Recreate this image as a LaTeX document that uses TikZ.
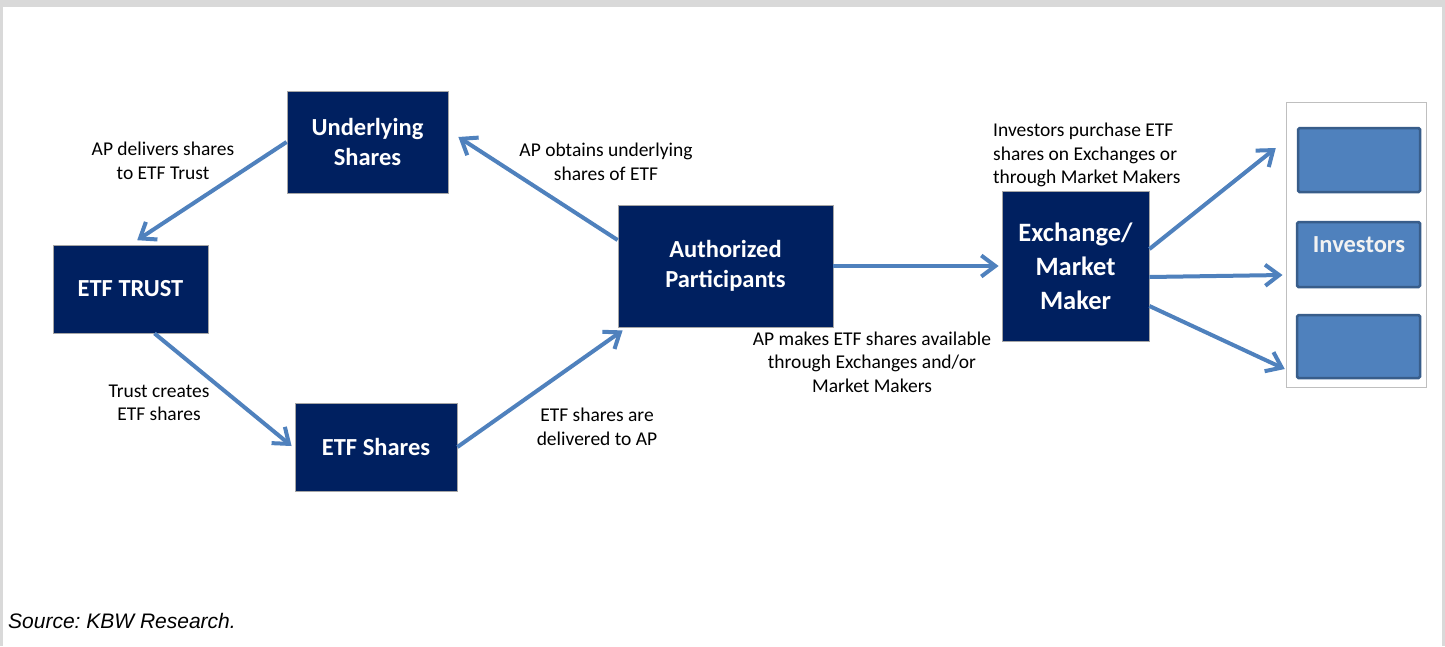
\documentclass[tikz,border=0pt]{standalone}
\usepackage{fontspec}
\setmainfont{Carlito}
\newfontfamily\arialfont{Liberation Sans}
\usetikzlibrary{arrows.meta}
\definecolor{navy}{HTML}{002060}
\definecolor{arrowblue}{HTML}{4F81BD}
\definecolor{invborder}{HTML}{385D8A}
\definecolor{framegray}{HTML}{D9D9D9}
\definecolor{boxline}{HTML}{A6A6A6}
\definecolor{outerline}{HTML}{BFBFBF}
\begin{document}
\frenchspacing
\begin{tikzpicture}[x=1pt,y=-1pt,
  navybox/.style={rectangle, fill=navy, draw=boxline, line width=0.8pt, text=white,
    font=\fontsize{24.5}{30}\selectfont\bfseries, align=center, inner sep=0pt},
  invsmall/.style={rectangle, rounded corners=1.5pt, fill=arrowblue, draw=invborder,
    line width=2.5pt, inner sep=0pt},
  lbl/.style={font=\fontsize{19.5}{23.5}\selectfont, align=center, text=black, inner sep=0pt},
  arr/.style={draw=arrowblue, line width=4pt, -{Straight Barb[length=14pt,width=21pt]}},
]
\useasboundingbox (0,0) rectangle (1445,646);
\fill[white] (0,0) rectangle (1445,646);
% frame
\fill[framegray] (0,0) rectangle (1445,7);
\fill[framegray] (0,0) rectangle (3,646);
\fill[framegray] (1442,0) rectangle (1445,646);

% main boxes
\node[navybox, minimum width=161pt, minimum height=102pt] (under) at (367.5,142) {Underlying\\Shares};
\node[navybox, minimum width=155pt, minimum height=88pt] (trust) at (130.5,289) {ETF TRUST};
\node[navybox, minimum width=162pt, minimum height=88pt] (eshares) at (376,447) {ETF Shares};
\node[navybox, minimum width=215pt, minimum height=122pt] (ap) at (725.5,266) {Authorized\\Participants};
\node[navybox, minimum width=147pt, minimum height=150pt, font=\fontsize{26.5}{34}\selectfont\bfseries] (exch) at (1075.5,266) {Exchange/\\Market\\Maker};

% investors group
\node[rectangle, draw=outerline, line width=1pt, fill=white, minimum width=140pt, minimum height=285pt, inner sep=0pt] (invbox) at (1356.5,245) {};
\node[invsmall, minimum width=122pt, minimum height=64pt] (inv1) at (1359,160) {};
\node[invsmall, minimum width=123pt, minimum height=65pt] (inv2) at (1358.5,254.5) {};
\node[invsmall, minimum width=123pt, minimum height=63pt] (inv3) at (1358.5,346.5) {};
\node[font=\fontsize{24.5}{28}\selectfont\bfseries, text=white!95!black, inner sep=0pt] (invlabel) at (1359,245) {Investors};

% connectors
\draw[arr, shorten >=8pt] (under.west) -- (trust.north);
\draw[arr] ([yshift=26pt]ap.west) -- ([xshift=10pt,yshift=5pt]under.east);
\draw[arr] ([xshift=24pt]trust.south) -- ([xshift=-3pt,yshift=1pt]eshares.west);
\draw[arr] (eshares.east) -- ([xshift=5pt,yshift=-3pt]ap.south west);
\draw[arr, shorten >=3pt] (ap.east) -- (exch.west);
\draw[arr] ([yshift=17pt]exch.east) -- ([xshift=-21pt,yshift=12pt]inv1.west);
\draw[arr] ([yshift=-11pt]exch.east) -- ([xshift=-3.5pt,yshift=-30pt]invbox.west);
\draw[arr] ([yshift=-40pt]exch.east) -- ([xshift=-11pt,yshift=-22.5pt]inv3.west);

% labels
\node[lbl] (l1) at (163,161) {AP delivers shares\\to ETF Trust};
\node[lbl] (l2) at (606,162) {AP obtains underlying\\shares of ETF};
\node[lbl] (l3) at (159,403) {Trust creates\\ETF shares};
\node[lbl] (l4) at (597,427) {ETF shares are\\delivered to AP};
\node[lbl] (l5) at (872,362) {AP makes ETF shares available\\through Exchanges and/or\\Market Makers};
\node[lbl, align=left, anchor=west] (l6) at (993,155) {Investors purchase ETF\\shares on Exchanges or\\through Market Makers};

\node[font=\arialfont\itshape\fontsize{21}{25}\selectfont, anchor=west, inner sep=0pt] (src) at (8,621) {Source: KBW Research.};
\end{tikzpicture}
\end{document}
